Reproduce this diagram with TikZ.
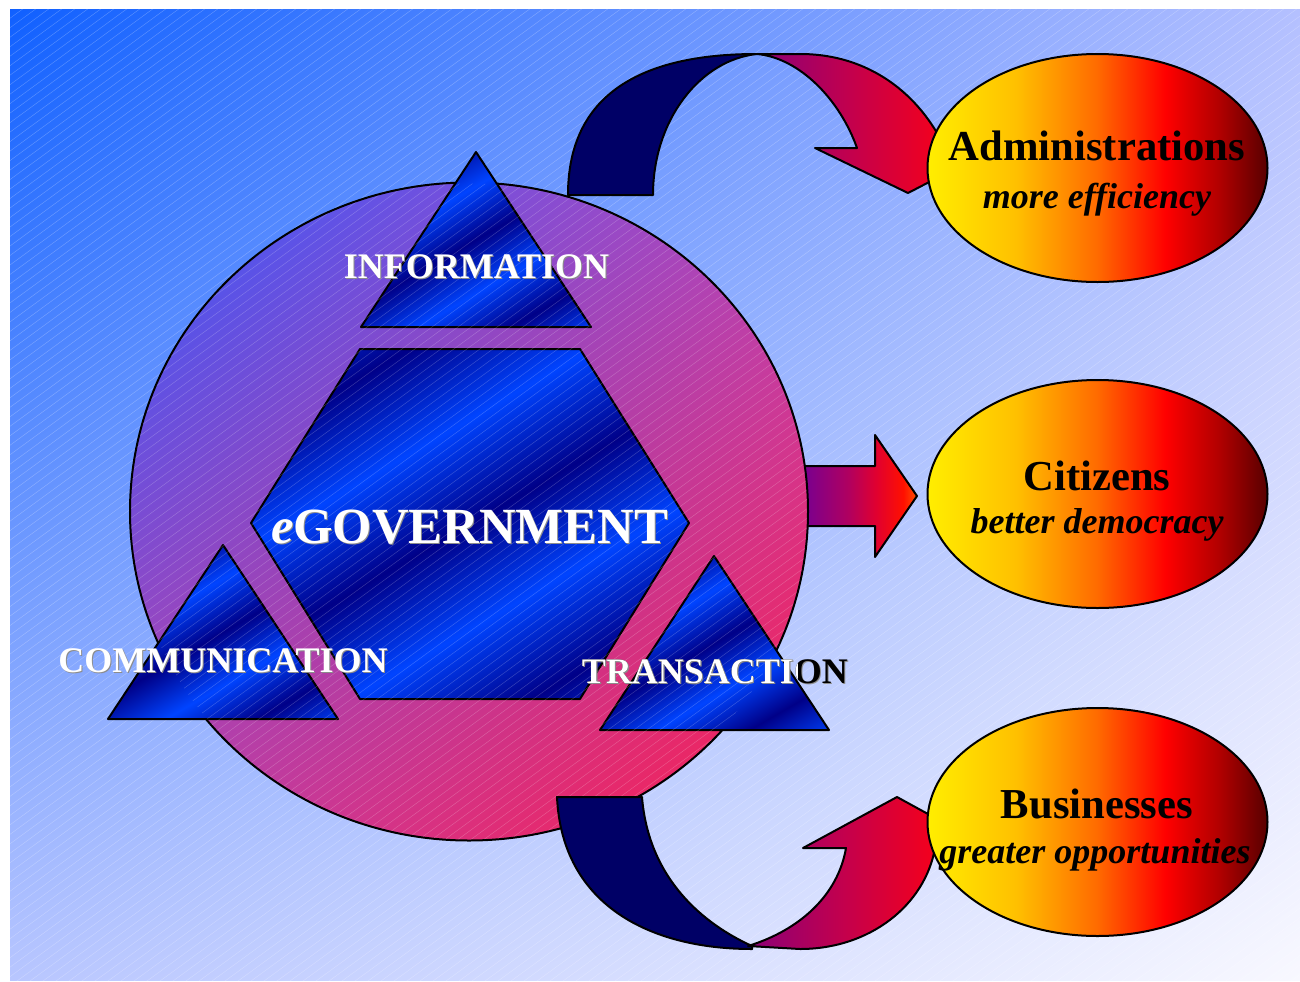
\documentclass[tikz,border=0pt]{standalone}
\usepackage{fontspec}
\setmainfont{Liberation Serif}
\usetikzlibrary{shadings,shapes.geometric}

\definecolor{navyc}{HTML}{000066}
\definecolor{mdk}{HTML}{000088}
\definecolor{mbr}{HTML}{0044FF}
\definecolor{e1}{HTML}{FFEE00}
\definecolor{e2}{HTML}{FFC000}
\definecolor{e3}{HTML}{FF6A00}
\definecolor{e4}{HTML}{FF0000}
\definecolor{e5}{HTML}{B00000}
\definecolor{e6}{HTML}{580000}
\definecolor{p1}{HTML}{8A0078}
\definecolor{p2}{HTML}{C4004C}
\definecolor{p3}{HTML}{F00020}
\definecolor{p4}{HTML}{FF0018}
\definecolor{q1}{HTML}{5A00A8}
\definecolor{q2}{HTML}{780090}
\definecolor{q3}{HTML}{B00060}
\definecolor{q4}{HTML}{E00030}
\definecolor{q5}{HTML}{FF1000}
\definecolor{q6}{HTML}{FF5000}

\pgfdeclarehorizontalshading{ellsh}{100bp}{color(0bp)=(e1); color(25bp)=(e1); color(38bp)=(e2); color(50bp)=(e3); color(60bp)=(e4); color(68bp)=(e5); color(75bp)=(e6); color(100bp)=(e6)}
\pgfdeclarehorizontalshading{arrA}{100bp}{color(0bp)=(p1); color(25bp)=(p1); color(45bp)=(p2); color(62bp)=(p3); color(75bp)=(p4); color(100bp)=(p4)}
\pgfdeclarehorizontalshading{arrB}{100bp}{color(0bp)=(q1); color(25bp)=(q1); color(42bp)=(q2); color(55bp)=(q3); color(63bp)=(q4); color(71bp)=(q5); color(75bp)=(q6); color(100bp)=(q6)}
\pgfdeclarehorizontalshading{metal}{100bp}{color(0bp)=(mdk); color(2bp)=(mdk); color(14bp)=(mbr); color(26bp)=(mdk); color(38bp)=(mbr); color(50bp)=(mdk); color(62bp)=(mbr); color(74bp)=(mdk); color(86bp)=(mbr); color(98bp)=(mdk); color(100bp)=(mdk)}

\tikzset{
  outline/.style={draw=black, line width=1.5pt, line join=round},
  hatch/.style={white, opacity=0.25, line width=0.35pt},
  lbl/.style={font=\bfseries\fontsize{27}{30}\selectfont, inner sep=0pt, anchor=base},
  lblw/.style={lbl, text=white},
  lbls/.style={lbl, text=black!45},
  ttl/.style={font=\bfseries\fontsize{32}{36}\selectfont, inner sep=0pt, anchor=base},
  subt/.style={font=\bfseries\itshape\fontsize{27}{30}\selectfont, inner sep=0pt, anchor=base},
  ell/.style={ellipse, outline, shade, shading=ellsh, minimum width=255pt, minimum height=171pt, inner sep=0pt},
  metalfill/.style={shade, shading=metal, shading angle=-60},
}

\begin{document}
\begin{tikzpicture}[x=0.75pt,y=-0.75pt]
\useasboundingbox (0,0) rectangle (1300,982);
\fill[white] (0,0) rectangle (1300,982);
% background
\shade[upper left={rgb,255:red,16;green,96;blue,255}, upper right={rgb,255:red,180;green,192;blue,255},
       lower left={rgb,255:red,184;green,198;blue,255}, lower right={rgb,255:red,248;green,248;blue,255}]
  (10,9) rectangle (1300,980);
\begin{scope}
  \clip (10,9) rectangle (1300,980);
  \foreach \i in {-1400,-1387,...,1300} \draw[hatch] (\i,1000) -- ++(1370,-1000);
\end{scope}

% middle arrow (behind circle)
\path[outline, shade, shading=arrB] (745,466) -- (875,466) -- (875,435) -- (917,496) -- (875,557) -- (875,526) -- (745,526) -- cycle;

% circle
\shade[upper left={rgb,255:red,50;green,90;blue,255}, upper right={rgb,255:red,185;green,70;blue,185},
       lower left={rgb,255:red,190;green,64;blue,170}, lower right={rgb,255:red,255;green,28;blue,72}]
  (469,511.5) ellipse [x radius=339, y radius=329];
\draw[line width=1.5pt] (469,511.5) ellipse [x radius=339, y radius=329];

% hexagon
\path[outline, metalfill] (360,349) -- (580,349) -- (689,523) -- (580,699) -- (360,699) -- (251,523) -- cycle;
% triangles
\path[outline, metalfill] (476,152) -- (591,327) -- (361,327) -- cycle;
\path[outline, metalfill] (223,545) -- (338,719) -- (108,719) -- cycle;
\path[outline, metalfill] (714,556) -- (829,730) -- (600,730) -- cycle;

\begin{scope}
  \clip (469,511.5) ellipse [x radius=338, y radius=328];
  \foreach \i in {-1400,-1387,...,1300} \draw[hatch, opacity=0.22] (\i,1000) -- ++(1370,-1000);
\end{scope}

% labels
\node[lbls] (infS) at (477.5,279) {INFORMATION};
\node[lblw] (inf) at (476.5,278) {INFORMATION};
\node[lbls] (comS) at (224,673) {COMMUNICATION};
\node[lblw] (com) at (223,672) {COMMUNICATION};
\node[lbls] (traS) at (716,684) {TRANSACTION};
\node[lbl, text=black] (traK) at (715,683) {TRANSACTION};
\begin{scope}
  \clip (0,0) rectangle (797,982);
  \node[lblw] (tra) at (715,683) {TRANSACTION};
\end{scope}
\node[lbls, font=\bfseries\fontsize{38}{42}\selectfont] (govS) at (470.5,544) {{\itshape e}GOVERNMENT};
\node[lblw, font=\bfseries\fontsize{38}{42}\selectfont] (gov) at (469.5,543) {{\itshape e}GOVERNMENT};

% top curved arrow
\path[outline, fill=navyc] (568,195) .. controls (568,95) and (640,54) .. (757,54)
  .. controls (700,60) and (653,120) .. (653,195) -- cycle;
\path[outline, shade, shading=arrA] (757,54) -- (800,54) .. controls (870,54) and (920,95) .. (945,148)
  -- (995,148) -- (908,193) -- (815,148) -- (857,148) .. controls (840,100) and (800,58) .. (757,54) -- cycle;

% bottom curved arrow
\path[outline, fill=navyc] (557,797) -- (642,797) .. controls (648,872) and (695,920) .. (752,946)
  -- (752,949) .. controls (650,949) and (562,905) .. (557,797) -- cycle;
\path[outline, shade, shading=arrA] (748,946) -- (800,949) .. controls (870,949) and (925,905) .. (935,848)
  -- (990,848) -- (897,797) -- (803,848) -- (846,848) .. controls (838,895) and (800,930) .. (748,946) -- cycle;

% ellipses
\node[ell] (adm) at (1097.5,168) {};
\node[ell] (cit) at (1097.5,494) {};
\node[ell] (bus) at (1097.5,822) {};

\node[ttl] (admT) at (1097,160) {Administrations};
\node[subt] (admS) at (1097,208) {more efficiency};
\node[ttl] (citT) at (1097,490) {Citizens};
\node[subt] (citS) at (1097,533) {better democracy};
\node[ttl] (busT) at (1097,818) {Businesses};
\node[subt] (busS) at (1095,863) {greater opportunities};
\end{tikzpicture}
\end{document}
